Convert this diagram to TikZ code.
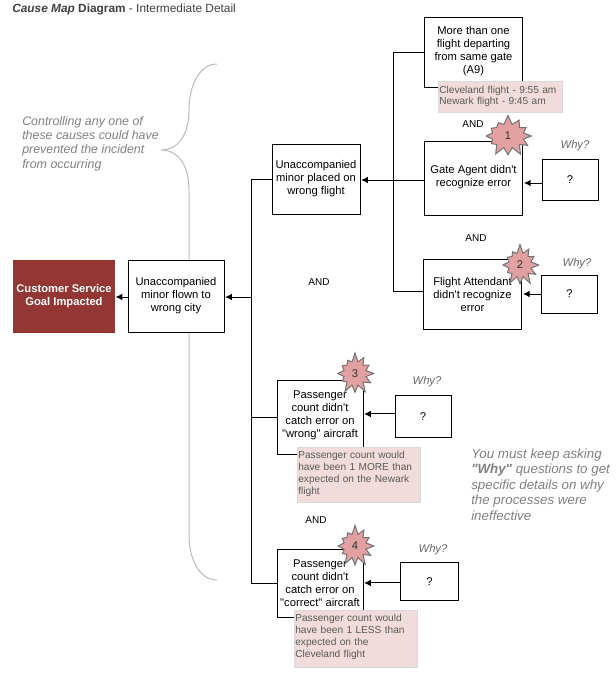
\documentclass[tikz,border=0pt]{standalone}
\usepackage{fontspec}
\setmainfont{Liberation Sans}[Ligatures=TeXOff]
\usetikzlibrary{shapes.symbols,arrows.meta}
\definecolor{goalred}{RGB}{148,54,52}
\definecolor{notepink}{RGB}{242,220,219}
\definecolor{noteline}{RGB}{217,217,217}
\definecolor{burstpink}{RGB}{226,160,160}
\definecolor{hintgrey}{RGB}{128,128,128}
\newcommand{\padtop}[1]{\mbox{}\\[-#1]}
\newcommand{\padend}[1]{\\[-#1]\mbox{}}
\begin{document}
\begin{tikzpicture}[x=0.75pt,y=-0.75pt,
    causebox/.style={draw=black, fill=white, line width=0.75pt, align=center, inner sep=0pt,
        font=\fontsize{8.4}{9.75}\selectfont},
    whybox/.style={causebox, minimum width=42pt, minimum height=31pt},
    notebox/.style={draw=noteline, fill=notepink, line width=0.75pt, align=left, inner sep=0.6pt, anchor=north west,
        text=black!65, font=\fontsize{7.6}{9}\selectfont},
    burst/.style={shape=starburst, random starburst=7, starburst points=12, starburst point height=7pt,
        draw=black!55, fill=burstpink, line width=0.75pt, minimum height=32pt, inner sep=0pt,
        text=black!80, font=\fontsize{8.4}{9.75}\selectfont},
    hint/.style={text=hintgrey, align=left, anchor=west, inner sep=0pt,
        font=\fontsize{9.3}{10.7}\selectfont\itshape},
    whylabel/.style={text=black!60, inner sep=0pt, font=\fontsize{8.4}{9.75}\selectfont\itshape},
    andlabel/.style={inner sep=0pt, font=\fontsize{7.5}{9}\selectfont},
    link/.style={line width=0.75pt},
    arrow/.style={link, -{Latex[length=5pt,width=5pt]}, shorten >=0.5pt}]
\useasboundingbox (0,0) rectangle (616,675);
% brace behind the boxes
\draw[black!27, line width=0.75pt] (217,64) .. controls (200,64) and (189,85) .. (189,110)
    .. controls (189,135) and (178,150) .. (161,150)
    .. controls (178,150) and (189,165) .. (189,190) -- (189,535)
    .. controls (189,560) and (200,580) .. (217,580);
\node[anchor=west, inner sep=0pt, text=black!75, font=\fontsize{8.9}{11}\selectfont] (title) at (12,9)
    {\textbf{\textit{Cause Map} Diagram} - Intermediate Detail};
\node[hint] (hintleft) at (22,143.5) {Controlling any one of\\these causes could have\\prevented the incident\\from occurring};
\node[hint, font=\fontsize{10}{11.7}\selectfont\itshape] (hintright) at (471,484.5)
    {You must keep asking\\\textbf{"Why"} questions to get\\specific details on why\\the processes were\\ineffective};
% boxes
\node[draw=goalred, fill=goalred, text=white, align=center, minimum width=76pt, minimum height=54pt, inner sep=0pt,
    font=\fontsize{8.4}{9.75}\selectfont\bfseries] (goal) at (64,296) {Customer Service\\Goal Impacted};
\node[causebox, minimum width=72pt, minimum height=54pt] (flown) at (176,296) {Unaccompanied\\minor flown to\\wrong city};
\node[causebox, minimum width=66pt, minimum height=52.5pt] (placed) at (316,179) {Unaccompanied\\minor placed on\\wrong flight};
\node[causebox, minimum width=74pt, minimum height=52pt] (gates) at (473.5,52.5) {\padtop{5.25pt}More than one\\flight departing\\from same gate\\(A9)};
\node[causebox, minimum width=74pt, minimum height=55pt] (agent) at (473.5,178.5) {\padtop{5.25pt}Gate Agent didn't\\recognize error};
\node[causebox, minimum width=74pt, minimum height=52pt] (attendant) at (472.5,294.5) {Flight Attendant\\didn't recognize\\error};
\node[causebox, minimum width=64.5pt, minimum height=55.5pt] (countthree) at (320,417) {\padtop{6.75pt}Passenger\\count didn't\\catch error on\\"wrong" aircraft};
\node[causebox, minimum width=64.5pt, minimum height=51pt] (countfour) at (320,583) {Passenger\\count didn't\\catch error on\\"correct" aircraft};
\node[whybox] (whyone) at (570,180) {?};
\node[whybox, minimum height=28.5pt] (whytwo) at (569.5,294) {?};
\node[whybox] (whythree) at (423,416.5) {?};
\node[whybox, minimum width=44pt, minimum height=29pt] (whyfour) at (429.5,581.5) {?};
% notes
\node[notebox, text width=91.8pt, minimum height=23pt, font=\fontsize{7.6}{8.2}\selectfont] (noteone) at (438,81) {Cleveland flight - 9:55 am\\Newark flight - 9:45 am\padend{6pt}};
\node[notebox, text width=91.3pt, minimum height=41.5pt] (notethree) at (297,447) {Passenger count would\\have been 1 MORE than\\expected on the Newark\\flight\padend{6pt}};
\node[notebox, text width=90.8pt, minimum height=43pt] (notefour) at (294,610) {Passenger count would\\have been 1 LESS than\\expected on the\\Cleveland flight\padend{4.5pt}};
% bursts and small labels
\foreach \n/\x/\y/\w in {1/508/136/38, 2/520/265/31, 3/355/373.5/31, 4/355/546/31}
    \node[burst, minimum width=\w pt] (burst\n) at (\x,\y) {\n};
\foreach \n/\x/\y in {1/575/146, 2/577/264, 3/427/382, 4/433/550}
    \node[whylabel] (whylabel\n) at (\x,\y) {Why?};
\foreach \n/\x/\y in {1/473/124, 2/476/238, 3/319/282, 4/316/520}
    \node[andlabel] (and\n) at (\x,\y) {AND};
% connectors
\coordinate (forkleft) at (251,297);
\coordinate (forkright) at (393,180);
\draw[arrow] ([yshift=-0.75pt]flown.west) -- ([yshift=-0.75pt]goal.east);
\draw[arrow] (forkleft) -- (forkleft -| flown.east);
\draw[link] (placed.west) -| (forkleft);
\draw[link] (countthree.west) -| (forkleft);
\draw[link] (countfour.west) -| (forkleft);
\draw[arrow] (forkright -| agent.west) -- (forkright -| placed.east);
\draw[link] (gates.west) -| (forkright);
\draw[link] ([yshift=1.9pt]attendant.west) -| (forkright);
\draw[arrow] ([yshift=-2.25pt]whyone.west) -- ([yshift=-2.25pt]whyone.west -| agent.east);
\draw[arrow] (whytwo.west) -- (whytwo.west -| attendant.east);
\draw[arrow] ([yshift=1.9pt]whythree.west) -- ([yshift=1.9pt]whythree.west -| countthree.east);
\draw[arrow] ([yshift=-1.1pt]whyfour.west) -- ([yshift=-1.1pt]whyfour.west -| countfour.east);
\end{tikzpicture}
\end{document}
